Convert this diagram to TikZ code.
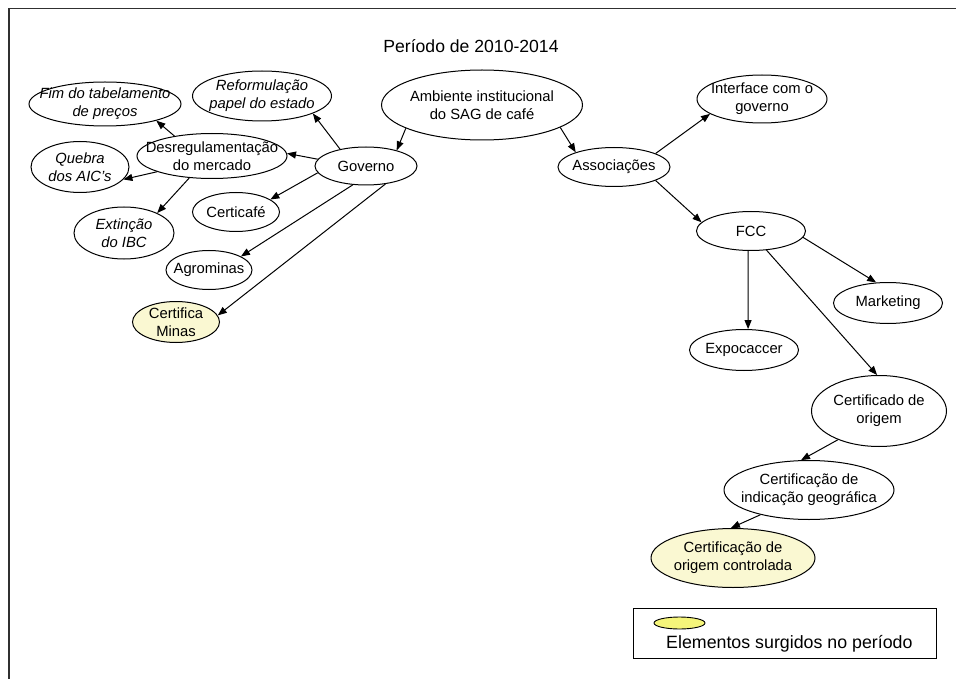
\documentclass[tikz,border=0pt]{standalone}
\usepackage{fontspec}
\setmainfont{Liberation Sans}
\usetikzlibrary{shapes.geometric,arrows.meta}
\definecolor{newfill}{HTML}{FAF8D2}
\definecolor{legfill}{HTML}{F5F57A}
\definecolor{framegray}{HTML}{303030}
\newcommand{\nfont}{\fontsize{14.8}{17.8}\selectfont}
\tikzset{
  ell/.style={ellipse, draw, line width=1pt, inner sep=0pt},
  lbl/.style={font=\nfont, align=center, inner sep=0pt},
  ilbl/.style={font=\nfont\itshape, align=center, inner sep=0pt},
  newel/.style={ell, fill=newfill},
  conn/.style={-{Triangle[length=9pt,width=7pt]}, line width=1pt},
}
\begin{document}
\begin{tikzpicture}[x=1pt,y=-1pt]
\useasboundingbox (0,0) rectangle (956,679);
% frame
\draw[framegray, line width=1.6pt] (9,679) -- (9,8.5) -- (956,8.5);
% title
\node[font=\fontsize{17.6}{20}\selectfont, inner sep=0pt] (title) at (471,46) {Período de 2010-2014};
% nodes
\node[ell, minimum width=201, minimum height=70, label={[lbl]center:{Ambiente institucional\\do SAG de café}}] (amb) at (482,105) {};
\node[ell, minimum width=102, minimum height=38, label={[lbl]center:{Governo}}] (gov) at (366,166) {};
\node[ell, minimum width=150, minimum height=45, label={[lbl]center:{Desregulamentação\\do mercado}}] (des) at (212,156) {};
\node[ell, minimum width=139, minimum height=50, label={[ilbl]center:{Reformulação\\papel do estado}}] (ref) at (262,96) {};
\node[ell, minimum width=152, minimum height=44, label={[ilbl]center:{Fim do tabelamento\\de preços}}] (fim) at (105,104) {};
\node[ell, minimum width=98, minimum height=51, label={[ilbl]center:{Quebra\\dos AIC's}}] (que) at (80,167) {};
\node[ell, minimum width=100, minimum height=52, label={[ilbl]center:{Extinção\\do IBC}}] (ext) at (124,233) {};
\node[ell, minimum width=87, minimum height=39, label={[lbl]center:{Certicafé}}] (cer) at (236,212) {};
\node[ell, minimum width=86, minimum height=39, label={[lbl]center:{Agrominas}}] (agr) at (209,270) {};
\node[newel, minimum width=87, minimum height=41, label={[lbl]center:{Certifica\\Minas}}] (cmi) at (176,322) {};
\node[ell, minimum width=130, minimum height=48, label={[lbl]center:{Interface com o\\governo}}] (int) at (762,99) {};
\node[ell, minimum width=112, minimum height=39, label={[lbl]center:{Associações}}] (ass) at (614,167) {};
\node[ell, minimum width=109, minimum height=39, label={[lbl]center:{FCC}}] (fcc) at (751,231) {};
\node[ell, minimum width=109, minimum height=41, label={[lbl]center:{Marketing}}] (mkt) at (888,303) {};
\node[ell, minimum width=109, minimum height=41, label={[lbl]center:{Expocaccer}}] (exp) at (744,350) {};
\node[ell, minimum width=135, minimum height=71, label={[lbl]center:{Certificado de\\origem}}] (cor) at (879,411) {};
\node[ell, minimum width=170, minimum height=59, label={[lbl]center:{Certificação de\\indicação geográfica}}] (cig) at (809,490) {};
\node[newel, minimum width=164, minimum height=59, label={[lbl]center:{Certificação de\\origem controlada}}] (coc) at (733,558) {};
% connectors
\draw[conn] (amb.197.7) -- (gov.27.5);
\draw[conn] (amb.-16) -- (ass.159.8);
\draw[conn] (gov.147.8) -- (ref.-19);
\draw[conn] (gov.172) -- (des.2);
\draw[conn] (gov.188.6) -- (cer.20);
\draw[conn] (gov.-125.5) -- (agr.23.6);
\draw[conn] (gov.-43.7) -- (cmi.9.5);
\draw[conn] (des.152.2) -- (fim.-18.4);
\draw[conn] (des.196.6) -- (que.-16.8);
\draw[conn] (des.-136.2) -- (ext.31);
\draw[conn] (ass.18.9) -- (int.196.7);
\draw[conn] (ass.-18.9) -- (fcc.170.3);
\draw[conn] (fcc.-7.4) -- (mkt.120);
\draw[conn] (fcc.-98) -- (exp.79);
\draw[conn] (fcc.-51) -- (cor.93);
\draw[conn] (cor.-145.4) -- (cig.105.4);
\draw[conn] (cig.-153.4) -- (coc.94);
% legend
\node[draw, line width=0.9pt, minimum width=303, minimum height=50, inner sep=0pt] (leg) at (784.5,633) {};
\node[ellipse, draw, line width=0.9pt, fill=legfill, minimum width=51, minimum height=12, inner sep=0pt] (legel) at (679.5,623) {};
\node[font=\fontsize{17.8}{20}\selectfont, inner sep=0pt, anchor=west] (legtxt) at (666,644) {Elementos surgidos no período};
\end{tikzpicture}
\end{document}
